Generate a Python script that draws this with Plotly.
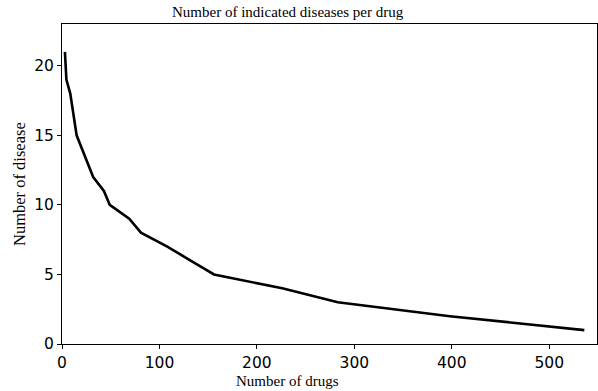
import plotly.graph_objects as go

# Data: drug rank vs number of indicated diseases
drug_rank = [3, 4.5, 8.5, 10.5, 15, 32, 43, 49, 69, 81, 108, 132, 156, 226, 283, 398, 536]
disease_count = [21, 19, 18, 17, 15, 12, 11, 10, 9, 8, 7, 6, 5, 4, 3, 2, 1]

x_ticks = [0, 100, 200, 300, 400, 500]
y_ticks = [0, 5, 10, 15, 20]

title_text = "Number of indicated diseases per drug"
x_label = "Number of drugs"
y_label = "Number of disease"

W, H = 598, 391
L, R, T, B = 62, 1, 24, 47

fig = go.Figure()
fig.add_trace(go.Scatter(x=drug_rank, y=disease_count, mode="lines",
                         line=dict(color="black", width=2.6), showlegend=False,
                         hoverinfo="skip"))

axis_common = dict(showgrid=False, zeroline=False, showline=True, linecolor="black",
                   linewidth=1, mirror=True, ticks="outside", ticklen=4, tickwidth=1,
                   tickcolor="black",
                   tickfont=dict(family="DejaVu Sans", size=15.5, color="black"))

fig.update_xaxes(range=[0, 549], tickvals=x_ticks, ticktext=[str(v) for v in x_ticks],
                 **axis_common)
fig.update_yaxes(range=[0, 23], tickvals=y_ticks, ticktext=[str(v) for v in y_ticks],
                 **axis_common)

serif = "Liberation Serif"
annotations = [
    dict(text=title_text, x=288 / W, y=1 - 12 / H,
         showarrow=False, font=dict(family=serif, size=15, color="black"),
         xanchor="center", yanchor="middle"),
    dict(text=x_label, x=287 / W, y=1 - 381 / H,
         showarrow=False, font=dict(family=serif, size=15, color="black"),
         xanchor="center", yanchor="middle"),
    dict(text=y_label, x=19 / W, y=1 - 184 / H,
         showarrow=False, textangle=-90, font=dict(family=serif, size=16.5, color="black"),
         xanchor="center", yanchor="middle"),
]
# convert figure-fraction coords to plot-area paper coords
for a in annotations:
    a["xref"] = "paper"
    a["yref"] = "paper"
    a["x"] = (a["x"] * W - L) / (W - L - R)
    a["y"] = (a["y"] * H - B) / (H - T - B)

fig.update_layout(width=W, height=H, margin=dict(l=L, r=R, t=T, b=B, pad=0),
                  paper_bgcolor="white", plot_bgcolor="white",
                  annotations=annotations)

fig.write_html("out.html")
